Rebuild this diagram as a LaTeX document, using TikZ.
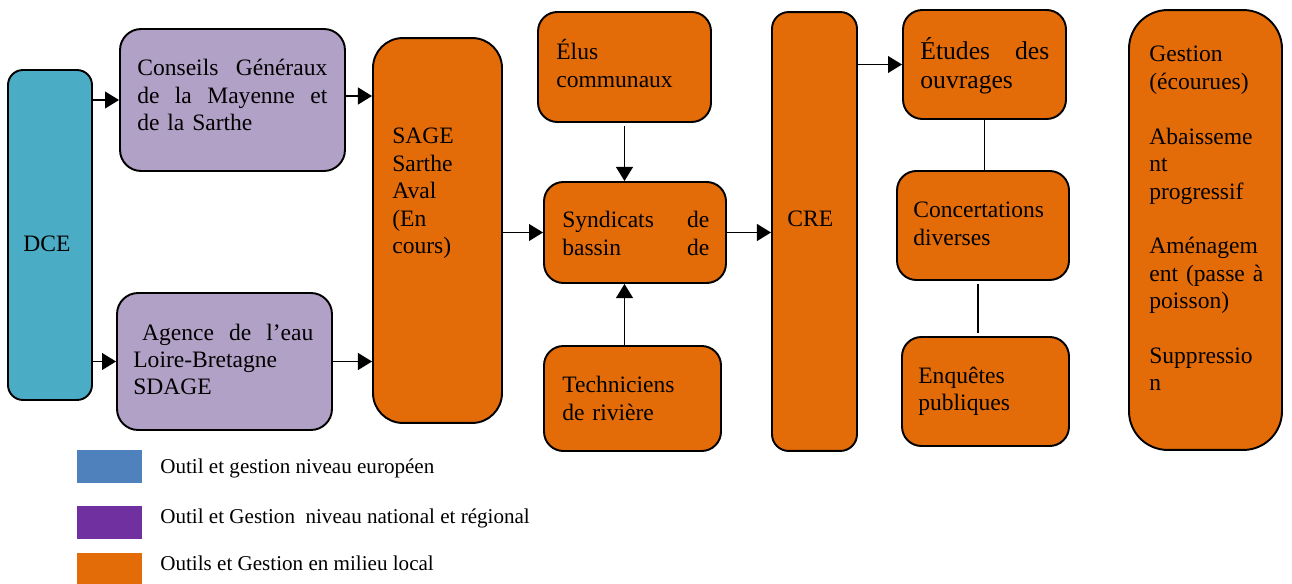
\documentclass[tikz,border=0pt]{standalone}
\usepackage{fontspec}
\setmainfont{Liberation Serif}
\usetikzlibrary{arrows.meta,positioning,calc}
\definecolor{dceblue}{HTML}{4BACC6}
\definecolor{natpurple}{HTML}{B2A1C7}
\definecolor{locorange}{HTML}{E36C09}
\definecolor{legblue}{HTML}{4F81BD}
\definecolor{legpurple}{HTML}{7030A0}
\tikzset{
  gbox/.style={draw, line width=1.1pt, rounded corners=11pt, inner sep=0pt},
  dcebox/.style={gbox, fill=dceblue, rounded corners=8.5pt},
  natbox/.style={gbox, fill=natpurple},
  locbox/.style={gbox, fill=locorange},
  gtext/.style={anchor=base west, inner sep=0pt, align=left,
    font=\fontsize{13.4}{15.6}\selectfont},
  garrow/.style={-{Triangle[length=8pt,width=9.5pt]}, line width=1.1pt},
  gline/.style={line width=1.1pt},
  legsq/.style={minimum width=1.3cm, minimum height=0.66cm, inner sep=0pt},
  legtext/.style={anchor=base west, inner sep=0pt, font=\fontsize{12}{14}\selectfont},
}

\begin{document}
\begin{tikzpicture}[x=0.02cm, y=-0.02cm]
  \useasboundingbox (0,0) rectangle (1292,584);

  % boxes
  \node[dcebox, minimum width=1.68cm, minimum height=6.6cm] (dce) at (50,235) {};
  \node[natbox, rounded corners=12pt, minimum width=4.5cm, minimum height=2.84cm] (conseils) at (232.5,100) {};
  \node[natbox, rounded corners=12pt, minimum width=4.3cm, minimum height=2.74cm] (agence) at (224.5,361.5) {};
  \node[locbox, rounded corners=17pt, minimum width=2.58cm, minimum height=7.7cm] (sage) at (437.5,230.5) {};
  \node[locbox, minimum width=3.46cm, minimum height=2.2cm] (elus) at (624.5,67) {};
  \node[locbox, minimum width=3.64cm, minimum height=2.02cm] (syndicats) at (635,232.5) {};
  \node[locbox, minimum width=3.54cm, minimum height=2.1cm] (techniciens) at (632.5,398.5) {};
  \node[locbox, rounded corners=9.5pt, minimum width=1.7cm, minimum height=8.78cm] (cre) at (814.5,231.5) {};
  \node[locbox, minimum width=3.26cm, minimum height=2.18cm] (etudes) at (984.5,64.5) {};
  \node[locbox, minimum width=3.44cm, minimum height=2.18cm] (concert) at (983,225.5) {};
  \node[locbox, minimum width=3.34cm, minimum height=2.18cm] (enquetes) at (985.5,391.5) {};
  \node[locbox, rounded corners=22pt, minimum width=3.06cm, minimum height=8.8cm] (gestion) at (1205.5,230) {};

  % texts
  \node[gtext] (dcetxt) at (23,252) {DCE};
  \node[gtext, text width=3.8cm] (conseilstxt) at (137,76)
    {Conseils\hfill Généraux\\ de\hfill la\hfill Mayenne\hfill et\\ de la Sarthe};
  \node[gtext, text width=3.6cm] (agencetxt) at (133,340)
    {\hspace*{5pt}Agence\hfill de\hfill l’eau\\ Loire-Bretagne\\ SDAGE};
  \node[gtext, text width=2cm] (sagetxt) at (392,144)
    {SAGE\\ Sarthe\\ Aval\\ (En\\ cours)};
  \node[gtext, text width=3cm] (elustxt) at (556,60) {Élus\\ communaux};
  \node[gtext, text width=2.94cm] (syndicatstxt) at (562,228)
    {Syndicats\hfill de\\ bassin\hfill de};
  \node[gtext, text width=3cm] (technicienstxt) at (562,393) {Techniciens\\ de rivière};
  \node[gtext] (cretxt) at (787,227) {CRE};
  \node[gtext, text width=2.58cm, font=\fontsize{14.6}{16.4}\selectfont] (etudestxt) at (920,60)
    {Études\hfill des\\ ouvrages};
  \node[gtext, text width=3cm] (concerttxt) at (913,218) {Concertations\\ diverses};
  \node[gtext, text width=3cm] (enquetestxt) at (918,383) {Enquêtes\\ publiques};
  \node[gtext, text width=2.28cm] (gestiontxt) at (1149,62)
    {Gestion\\ (écourues)\\[15.6pt] Abaisseme\\ nt\\ progressif\\[15.6pt]
     Aménagem\\ ent\hfill(passe\hfill à\\ poisson)\\[15.6pt] Suppressio\\ n};

  % connectors
  \draw[garrow] (conseils.west -| dce.east) -- (conseils.west);
  \draw[garrow] (agence.west -| dce.east) -- (agence.west);
  \draw[garrow] ([yshift=0.08cm]conseils.east) -- ([yshift=0.08cm]conseils.east -| sage.west);
  \draw[garrow] (agence.east) -- (agence.east -| sage.west);
  \draw[garrow] (syndicats.west -| sage.east) -- (syndicats.west);
  \draw[garrow] (syndicats.east) -- (syndicats.east -| cre.west);
  \draw[garrow, shorten <=0.06cm] (elus.south) -- (elus.south |- syndicats.north);
  \draw[garrow] (techniciens.north -| elus.south) -- (syndicats.south -| elus.south);
  \draw[garrow] (etudes.west -| cre.east) -- (etudes.west);
  \draw[gline] (etudes.south) -- (etudes.south |- concert.north);
  \draw[gline, shorten <=0.06cm, shorten >=0.06cm]
    ([xshift=-0.1cm]concert.south) -- ([xshift=-0.1cm]concert.south |- enquetes.north);

  % legend
  \node[legsq, fill=legblue] (legeu) at (109.5,466.5) {};
  \node[legsq, fill=legpurple] (legnat) at (109.5,522.5) {};
  \node[legsq, fill=locorange, minimum height=0.62cm] (legloc) at (109.5,568.5) {};
  \node[legtext] (legeutxt) at (160,473) {Outil et gestion niveau européen};
  \node[legtext] (legnattxt) at (160,523) {Outil et Gestion\ \ niveau national et régional};
  \node[legtext] (legloctxt) at (160,570) {Outils et Gestion en milieu local};
\end{tikzpicture}
\end{document}
